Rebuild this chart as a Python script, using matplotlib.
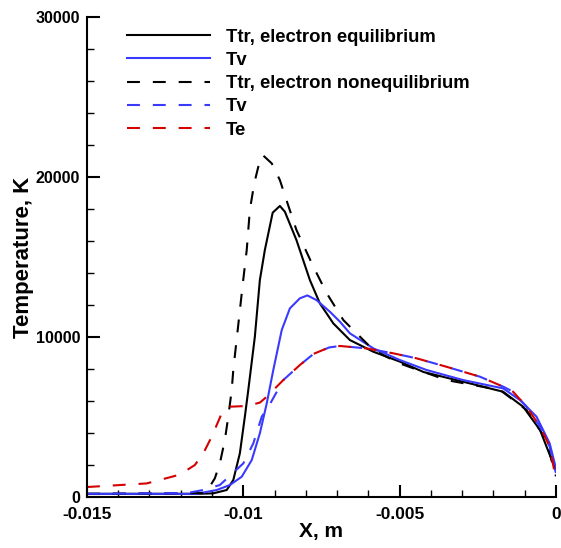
import matplotlib
matplotlib.use("Agg")
import matplotlib.pyplot as plt
from matplotlib.ticker import MultipleLocator

plt.rcParams['font.family'] = ['Liberation Sans', 'DejaVu Sans']

# Ttr, electron equilibrium (solid black)
x_ttr_eq = [-0.015, -0.0115, -0.01096, -0.01053, -0.01032, -0.01011, -0.00995, -0.00984, -0.00963,
            -0.00947, -0.00931, -0.00906, -0.00883, -0.00867, -0.0083, -0.00787, -0.00755,
            -0.00712, -0.00659, -0.00584, -0.00499, -0.00423, -0.00275, -0.00169, -0.00105,
            -0.00051, -0.00009, 0.0]
t_ttr_eq = [200, 200, 230, 440, 1060, 2730, 5020, 6690, 10020,
            13560, 15440, 17770, 18190, 17830, 16060, 13560, 12100,
            10850, 9810, 9080, 8460, 7810, 7100, 6580, 5645,
            4190, 2100, 1700]

# Tv, electron equilibrium (solid blue)
x_tv_eq = [-0.015, -0.0115, -0.01085, -0.01043, -0.01005, -0.00973, -0.00947, -0.00925, -0.00904,
           -0.00877, -0.00851, -0.00819, -0.00795, -0.00766, -0.00723, -0.00691, -0.00659,
           -0.00584, -0.00499, -0.00414, -0.00297, -0.00169, -0.00115, -0.00062, -0.0002,
           -0.00004, 0.0]
t_tv_eq = [200, 200, 440, 750, 1270, 2310, 3980, 5850, 7940,
           10440, 11790, 12420, 12600, 12310, 11580, 10960, 10230,
           9290, 8560, 7940, 7310, 6790, 6060, 5020, 3350,
           2100, 1900]

# Ttr, electron nonequilibrium (dashed black)
x_ttr_ne = [-0.015, -0.0112, -0.01091, -0.01075, -0.01059, -0.01048, -0.01037, -0.01032, -0.0100,
            -0.00989, -0.00979, -0.00965, -0.00952, -0.00938, -0.00909, -0.00883, -0.00862,
            -0.0083, -0.00776, -0.00733, -0.0068, -0.00616, -0.00584, -0.005, -0.0035,
            -0.00179, -0.00094, -0.0003, -0.00009, 0.0]
t_ttr_ne = [200, 250, 1170, 2100, 3560, 5020, 6690, 7940, 13600,
            15440, 17940, 19600, 20640, 21375, 20850, 19810, 18560,
            16690, 14400, 12730, 11060, 9810, 9190, 8350, 7310,
            6690, 5440, 3560, 1900, 1300]

# Tv, electron nonequilibrium (dashed blue)
x_tv_ne = [-0.015, -0.0118, -0.01128, -0.01075, -0.0100, -0.00968, -0.00941, -0.00915, -0.00872,
           -0.00819, -0.00775, -0.00725, -0.00691, -0.00606, -0.0052, -0.00446, -0.0035, -0.00243,
           -0.00169, -0.00137, -0.00094, -0.00051, -0.0002, -0.00004, 0.0]
t_tv_ne = [200, 250, 440, 750, 2100, 3350, 5020, 5800, 7310,
           8250, 8950, 9350, 9440, 9290, 8980, 8670, 8140, 7520,
           6900, 6580, 5645, 4400, 3150, 1800, 1500]

# Te (dashed red)
x_te = [-0.015, -0.01309, -0.01203, -0.01155, -0.01128, -0.01101, -0.01069, -0.01043, -0.00989,
        -0.00947, -0.00925, -0.00872, -0.00819, -0.00775, -0.00725, -0.00691, -0.00606, -0.0052,
        -0.00446, -0.0035, -0.00243, -0.00169, -0.00137, -0.00094, -0.00051, -0.0002,
        -0.00004, 0.0]
t_te = [625, 850, 1400, 2000, 2730, 3770, 5230, 5645, 5690,
        5900, 6270, 7310, 8250, 8950, 9350, 9440, 9290, 8980,
        8670, 8140, 7520, 6900, 6580, 5645, 4400, 3150,
        1500, 1300]

labels = ["Ttr, electron equilibrium", "Tv", "Ttr, electron nonequilibrium", "Tv", "Te"]
x_ticks = [-0.015, -0.01, -0.005, 0]
x_ticklabels = ["-0.015", "-0.01", "-0.005", "0"]
y_ticks = [0, 10000, 20000, 30000]
y_ticklabels = ["0", "10000", "20000", "30000"]

BLUE = '#3a3aff'
RED = '#d40000'
dash = (0, (6.2, 6.2))

fig = plt.figure(figsize=(5.61, 5.48), dpi=100)
ax = fig.add_axes([0.155, 0.093, 0.836, 0.876])

ax.plot(x_ttr_eq, t_ttr_eq, color='black', lw=1.5, label=labels[0])
ax.plot(x_tv_eq, t_tv_eq, color=BLUE, lw=1.5, label=labels[1])
ax.plot(x_ttr_ne, t_ttr_ne, color='black', lw=1.5, ls=dash, label=labels[2])
ax.plot(x_tv_ne, t_tv_ne, color=BLUE, lw=1.5, ls=dash, label=labels[3])
ax.plot(x_te, t_te, color=RED, lw=1.5, ls=dash, label=labels[4])

ax.set_xlim(-0.015, 0)
ax.set_ylim(0, 30000)
ax.set_xticks(x_ticks)
ax.set_xticklabels(x_ticklabels, fontweight='bold', fontsize=12.5)
ax.set_yticks(y_ticks)
ax.set_yticklabels(y_ticklabels, fontweight='bold', fontsize=11.5)
ax.xaxis.set_minor_locator(MultipleLocator(0.001))
ax.yaxis.set_minor_locator(MultipleLocator(2000))
ax.tick_params(which='major', direction='in', length=9, width=1.5)
ax.tick_params(axis='x', which='major', pad=7)
ax.tick_params(axis='y', which='major', pad=5)
ax.tick_params(which='minor', direction='in', length=5, width=1)
ax.spines['top'].set_visible(False)
ax.spines['right'].set_visible(False)
ax.spines['left'].set_linewidth(1.5)
ax.spines['bottom'].set_linewidth(1.5)

ax.set_xlabel("X, m", fontweight='bold', fontsize=15, labelpad=0)
ax.set_ylabel("Temperature, K", fontweight='bold', fontsize=16, labelpad=1)

leg = ax.legend(loc='upper left', bbox_to_anchor=(0.066, 0.995), frameon=False,
                borderpad=0, handlelength=4.5, handletextpad=0.85, labelspacing=0.34,
                prop={'weight': 'bold', 'size': 13.3})

fig.savefig("out.png", dpi=100)
